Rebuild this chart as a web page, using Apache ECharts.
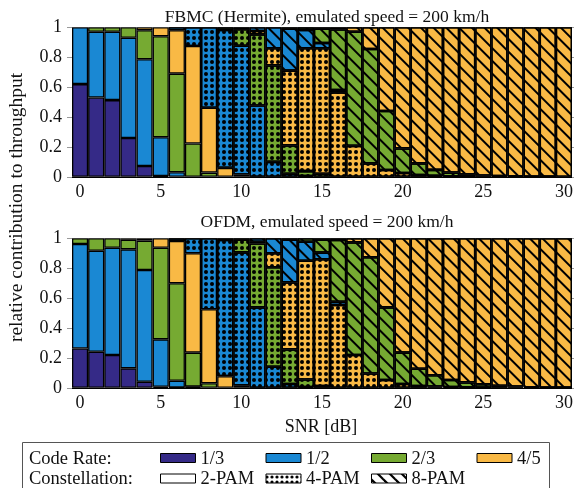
<!DOCTYPE html>
<html>
<head>
<meta charset="utf-8">
<script src="https://cdn.jsdelivr.net/npm/echarts@6/dist/echarts.min.js"></script>
<style>
  html, body { margin: 0; padding: 0; background: #fff; }
  #chart { width: 574px; height: 488px; }
</style>
</head>
<body>
<div id="chart"></div>
<script>
// SNR axis categories (dB)
const snrLabels = ['0','1','2','3','4','5','6','7','8','9','10','11','12','13','14','15',
  '16','17','18','19','20','21','22','23','24','25','26','27','28','29','30'];
const yTicks = [0, 0.2, 0.4, 0.6, 0.8, 1];

// FBMC (Hermite): share of throughput per code rate / constellation
const fbmcRate13Pam2 = [0.62,0.53,0.513,0.26,0.072,0.005,0,0,0,0,0,0,0,0,0,0,0,0,0,0,0,0,0,0,0,0,0,0,0,0,0];
const fbmcRate12Pam2 = [0.38,0.44,0.457,0.67,0.714,0.26,0.03,0,0,0,0,0,0,0,0,0,0,0,0,0,0,0,0,0,0,0,0,0,0,0,0];
const fbmcRate23Pam2 = [0,0.03,0.03,0.07,0.194,0.675,0.66,0.223,0.028,0,0,0,0,0,0,0,0,0,0,0,0,0,0,0,0,0,0,0,0,0,0];
const fbmcRate45Pam2 = [0,0,0,0,0.02,0.06,0.29,0.652,0.434,0.06,0.015,0,0,0,0,0,0,0,0,0,0,0,0,0,0,0,0,0,0,0,0];
const fbmcRate12Pam4 = [0,0,0,0,0,0,0.02,0.125,0.538,0.922,0.862,0.477,0.1,0.02,0.005,0,0,0,0,0,0,0,0,0,0,0,0,0,0,0,0];
const fbmcRate23Pam4 = [0,0,0,0,0,0,0,0,0,0.018,0.11,0.476,0.645,0.19,0.033,0.02,0,0,0,0,0,0,0,0,0,0,0,0,0,0,0];
const fbmcRate45Pam4 = [0,0,0,0,0,0,0,0,0,0,0.013,0.022,0.115,0.5,0.822,0.84,0.565,0.207,0.09,0.045,0.025,0.012,0.006,0.003,0.002,0,0,0,0,0,0];
const fbmcRate12Pam8 = [0,0,0,0,0,0,0,0,0,0,0,0.025,0.14,0.28,0.122,0.035,0.015,0,0,0,0,0,0,0,0,0,0,0,0,0,0];
const fbmcRate23Pam8 = [0,0,0,0,0,0,0,0,0,0,0,0,0,0.01,0.018,0.095,0.405,0.763,0.765,0.395,0.165,0.078,0.04,0.025,0.015,0.009,0.005,0.003,0.002,0.001,0];
const fbmcRate45Pam8 = [0,0,0,0,0,0,0,0,0,0,0,0,0,0,0,0.01,0.015,0.03,0.145,0.56,0.81,0.91,0.954,0.972,0.983,0.991,0.995,0.997,0.998,0.999,1];

// OFDM: share of throughput per code rate / constellation
const ofdmRate13Pam2 = [0.263,0.241,0.219,0.13,0.04,0.007,0.002,0.005,0,0,0,0,0,0,0,0,0,0,0,0,0,0,0,0,0,0,0,0,0,0,0];
const ofdmRate12Pam2 = [0.699,0.676,0.718,0.796,0.748,0.317,0.045,0.003,0,0,0,0,0,0,0,0,0,0,0,0,0,0,0,0,0,0,0,0,0,0,0];
const ofdmRate23Pam2 = [0.038,0.083,0.063,0.064,0.196,0.613,0.652,0.227,0.03,0,0,0,0,0,0,0,0,0,0,0,0,0,0,0,0,0,0,0,0,0,0];
const ofdmRate45Pam2 = [0,0,0,0.01,0.016,0.063,0.283,0.665,0.495,0.078,0.016,0,0,0,0,0,0,0,0,0,0,0,0,0,0,0,0,0,0,0,0];
const ofdmRate12Pam4 = [0,0,0,0,0,0,0.018,0.1,0.475,0.911,0.89,0.538,0.141,0.025,0.005,0,0,0,0,0,0,0,0,0,0,0,0,0,0,0,0];
const ofdmRate23Pam4 = [0,0,0,0,0,0,0,0,0,0.011,0.084,0.428,0.665,0.232,0.051,0.012,0,0,0,0,0,0,0,0,0,0,0,0,0,0,0];
const ofdmRate45Pam4 = [0,0,0,0,0,0,0,0,0,0,0.01,0.011,0.094,0.448,0.794,0.848,0.554,0.219,0.096,0.052,0.025,0.012,0.008,0.005,0.003,0.002,0,0,0,0,0];
const ofdmRate12Pam8 = [0,0,0,0,0,0,0,0,0,0,0,0.023,0.1,0.285,0.127,0.044,0.022,0,0,0,0,0,0,0,0,0,0,0,0,0,0];
const ofdmRate23Pam8 = [0,0,0,0,0,0,0,0,0,0,0,0,0,0.01,0.023,0.086,0.413,0.754,0.777,0.486,0.21,0.115,0.076,0.047,0.033,0.022,0.014,0.008,0.004,0.002,0.001];
const ofdmRate45Pam8 = [0,0,0,0,0,0,0,0,0,0,0,0,0,0,0,0.01,0.011,0.027,0.127,0.462,0.765,0.873,0.916,0.948,0.964,0.976,0.986,0.992,0.996,0.998,0.999];

const rateNames = ['1/3', '1/2', '2/3', '4/5'];
const constellationNames = ['2-PAM', '4-PAM', '8-PAM'];

const FONT_FAMILY = '"Liberation Serif", "Times New Roman", serif';
const RATE_COLORS = { '1/3': '#352a87', '1/2': '#1a88d3', '2/3': '#76aa32', '4/5': '#f9b945' };

// fill overlays per constellation
const DECALS = {
  '2-PAM': null,
  '4-PAM': { symbol: 'circle', symbolSize: 1, dashArrayX: [4, 2], dashArrayY: [4, 2], color: '#000', rotation: 0 },
  '8-PAM': { symbol: 'rect', symbolSize: 1, dashArrayX: [1, 0], dashArrayY: [2, 7], color: '#000', rotation: Math.PI / 4 }
};

const GRID_LEFT = 72, GRID_WIDTH = 500, GRID_HEIGHT = 149.5;
const GRID_TOPS = [27.3, 238.3];
const TITLE_TOPS = [3, 208];

const panels = [
  {
    title: 'FBMC (Hermite), emulated speed = 200 km/h',
    stack: 'fbmc',
    layers: [
      ['1/3', '2-PAM', fbmcRate13Pam2], ['1/2', '2-PAM', fbmcRate12Pam2],
      ['2/3', '2-PAM', fbmcRate23Pam2], ['4/5', '2-PAM', fbmcRate45Pam2],
      ['1/2', '4-PAM', fbmcRate12Pam4], ['2/3', '4-PAM', fbmcRate23Pam4],
      ['4/5', '4-PAM', fbmcRate45Pam4], ['1/2', '8-PAM', fbmcRate12Pam8],
      ['2/3', '8-PAM', fbmcRate23Pam8], ['4/5', '8-PAM', fbmcRate45Pam8]
    ]
  },
  {
    title: 'OFDM, emulated speed = 200 km/h',
    stack: 'ofdm',
    layers: [
      ['1/3', '2-PAM', ofdmRate13Pam2], ['1/2', '2-PAM', ofdmRate12Pam2],
      ['2/3', '2-PAM', ofdmRate23Pam2], ['4/5', '2-PAM', ofdmRate45Pam2],
      ['1/2', '4-PAM', ofdmRate12Pam4], ['2/3', '4-PAM', ofdmRate23Pam4],
      ['4/5', '4-PAM', ofdmRate45Pam4], ['1/2', '8-PAM', ofdmRate12Pam8],
      ['2/3', '8-PAM', ofdmRate23Pam8], ['4/5', '8-PAM', ofdmRate45Pam8]
    ]
  }
];

const grids = [], xAxes = [], yAxes = [], series = [], titles = [];

panels.forEach((panel, p) => {
  grids.push({ left: GRID_LEFT, top: GRID_TOPS[p], width: GRID_WIDTH, height: GRID_HEIGHT,
    containLabel: false, outerBoundsMode: 'none' });

  titles.push({
    text: panel.title, left: GRID_LEFT + GRID_WIDTH / 2, top: TITLE_TOPS[p], textAlign: 'center',
    textStyle: { fontFamily: FONT_FAMILY, fontSize: 17.5, fontWeight: 'normal', color: '#111' }
  });

  xAxes.push({
    type: 'category', gridIndex: p, data: snrLabels, boundaryGap: true,
    axisLine: { show: true, lineStyle: { color: '#000', width: 1 } },
    axisTick: { show: false },
    axisLabel: { interval: (i) => i % 5 === 0, margin: 6, color: '#111',
      fontFamily: FONT_FAMILY, fontSize: 18 },
    splitLine: { show: false }
  });

  yAxes.push({
    type: 'value', gridIndex: p, min: yTicks[0], max: yTicks[yTicks.length - 1], interval: 0.2,
    axisLine: { show: false },
    axisTick: { show: true, length: 5, lineStyle: { color: '#999', width: 1 } },
    axisLabel: { margin: 10, color: '#111', fontFamily: FONT_FAMILY, fontSize: 18 },
    splitLine: { show: false }
  });
  yAxes.push({
    type: 'value', gridIndex: p, position: 'right', min: yTicks[0], max: yTicks[yTicks.length - 1], interval: 0.2,
    axisLine: { show: false },
    axisTick: { show: true, length: 3, lineStyle: { color: '#999', width: 1 } },
    axisLabel: { show: false },
    splitLine: { show: false }
  });

  panel.layers.forEach(([rate, constellation, values]) => {
    series.push({
      type: 'bar',
      name: rate + ' ' + constellation,
      xAxisIndex: p,
      yAxisIndex: p * 2,
      stack: panel.stack,
      barCategoryGap: '0%',
      data: values.map(v => (v === 0 ? '-' : v)),
      itemStyle: {
        color: RATE_COLORS[rate],
        borderColor: '#000',
        borderWidth: 1.3,
        decal: DECALS[constellation] || undefined
      },
      emphasis: { disabled: true },
      silent: true
    });
  });
});

// small repeating fills for the constellation key
function makeDotTile() {
  const c = document.createElement('canvas');
  c.width = 5; c.height = 5;
  const ctx = c.getContext('2d');
  ctx.fillStyle = '#fff'; ctx.fillRect(0, 0, 5, 5);
  ctx.fillStyle = '#000';
  ctx.beginPath(); ctx.arc(2, 2, 1.6, 0, Math.PI * 2); ctx.fill();
  return c;
}
function makeHatchTile() {
  const c = document.createElement('canvas');
  c.width = 12; c.height = 12;
  const ctx = c.getContext('2d');
  ctx.fillStyle = '#fff'; ctx.fillRect(0, 0, 12, 12);
  ctx.strokeStyle = '#000'; ctx.lineWidth = 2.2;
  for (let k = -1; k <= 1; k++) {
    ctx.beginPath(); ctx.moveTo(-2, -2 + k * 12); ctx.lineTo(14, 14 + k * 12); ctx.stroke();
  }
  return c;
}
const KEY_FILLS = {
  '2-PAM': '#fff',
  '4-PAM': { image: makeDotTile(), repeat: 'repeat' },
  '8-PAM': { image: makeHatchTile(), repeat: 'repeat' }
};

const KEY_FONT = '18.5px ' + FONT_FAMILY;
const keyText = (text, x, y) => ({
  type: 'text', x, y,
  style: { text, font: KEY_FONT, fill: '#111',
    align: 'left', verticalAlign: 'middle', textAlign: 'left', textVerticalAlign: 'middle' }
});

const graphic = [];
// y-axis caption shared by both panels
graphic.push({
  type: 'text', x: 16.5, y: 207.5, rotation: Math.PI / 2,
  style: { text: 'relative contribution to throughput', font: '19.5px ' + FONT_FAMILY, fill: '#111',
    align: 'center', verticalAlign: 'middle', textAlign: 'center', textVerticalAlign: 'middle' }
});
// x-axis caption
graphic.push({
  type: 'text', x: 321, y: 427.5,
  style: { text: 'SNR [dB]', font: '18px ' + FONT_FAMILY, fill: '#111',
    align: 'center', verticalAlign: 'middle', textAlign: 'center', textVerticalAlign: 'middle' }
});
// key frame
graphic.push({
  type: 'rect', shape: { x: 22.5, y: 442.5, width: 527, height: 60 },
  style: { fill: '#fff', stroke: '#555', lineWidth: 1 }
});
graphic.push(keyText('Code Rate:', 29, 459.5));
graphic.push(keyText('Constellation:', 29, 479.5));

const KEY_X = [160.5, 266, 371.5, 477];
rateNames.forEach((rate, i) => {
  graphic.push({ type: 'rect', shape: { x: KEY_X[i], y: 453.5, width: 35, height: 9 },
    style: { fill: RATE_COLORS[rate], stroke: '#000', lineWidth: 1 } });
  graphic.push(keyText(rate, KEY_X[i] + 40, 459.5));
});
constellationNames.forEach((name, i) => {
  graphic.push({ type: 'rect', shape: { x: KEY_X[i], y: 474, width: 35, height: 9 },
    style: { fill: KEY_FILLS[name], stroke: '#000', lineWidth: 1 } });
  graphic.push(keyText(name, KEY_X[i] + 40, 479.5));
});

const chart = echarts.init(document.getElementById('chart'), null, { renderer: 'canvas' });
chart.setOption({
  animation: false,
  backgroundColor: '#fff',
  title: titles,
  grid: grids,
  xAxis: xAxes,
  yAxis: yAxes,
  series: series,
  graphic: graphic
});
</script>
</body>
</html>
